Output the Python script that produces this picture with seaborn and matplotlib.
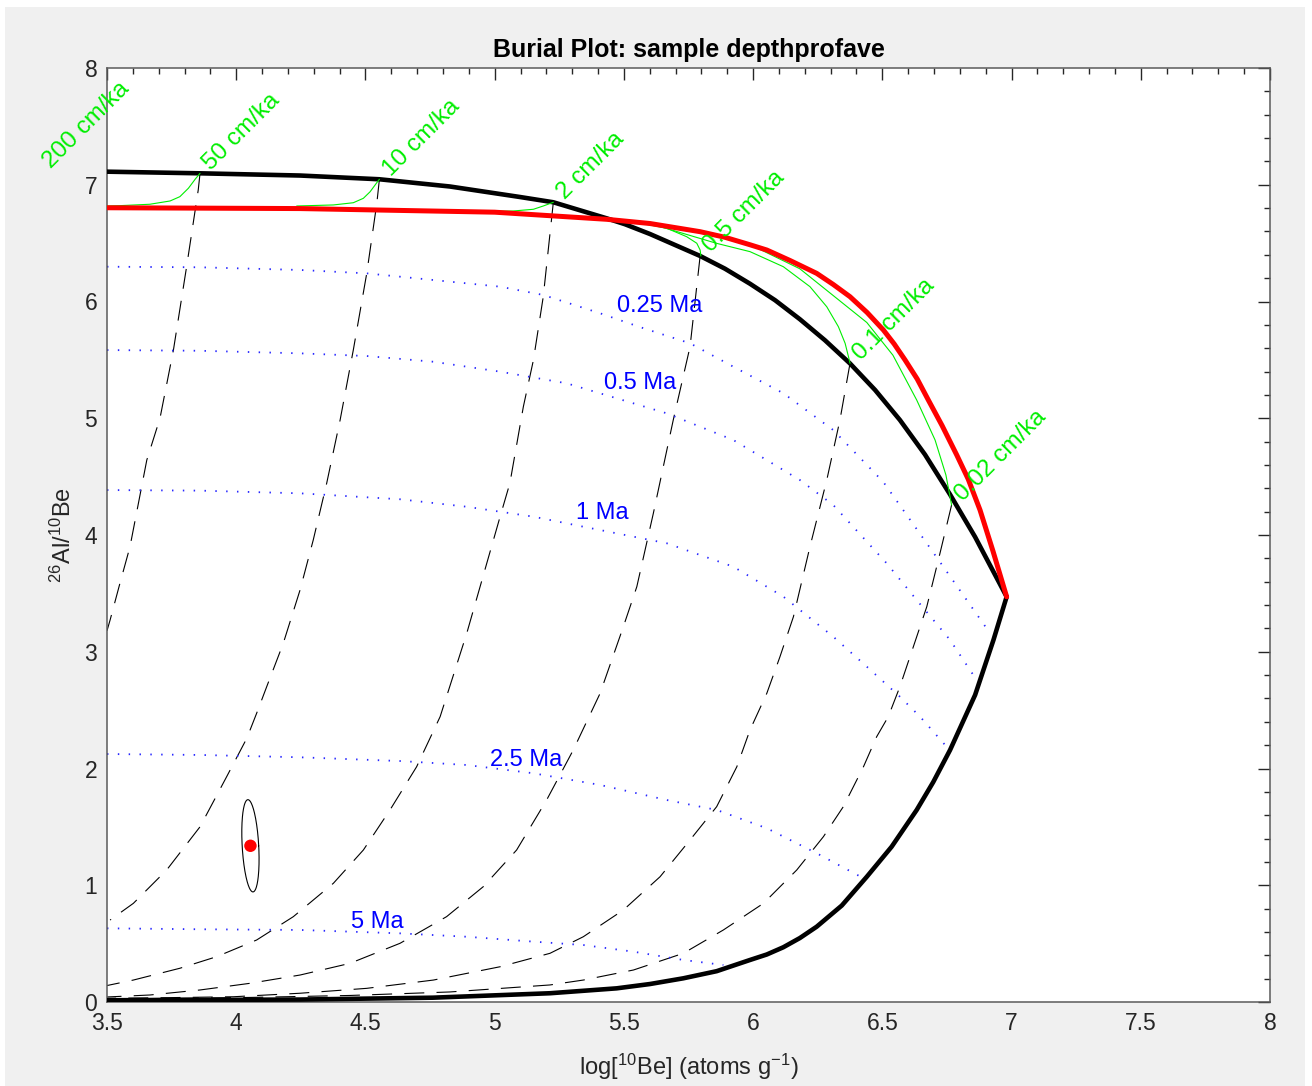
import numpy as np
import matplotlib
matplotlib.use("Agg")
import matplotlib.pyplot as plt
from matplotlib.patches import Rectangle
from matplotlib.ticker import MultipleLocator
import seaborn as sns

# ---------------- data ----------------
# steady-erosion end points (upper black curve)
steady_be = [3.500, 3.860, 4.247, 4.554, 4.827, 5.098, 5.227, 5.434, 5.504, 5.601, 5.698, 5.795,
             5.891, 5.988, 6.085, 6.181, 6.278, 6.375, 6.472, 6.568, 6.665, 6.762, 6.859, 6.981]
steady_ratio = [7.112, 7.098, 7.079, 7.047, 6.985, 6.895, 6.850, 6.712, 6.662, 6.578, 6.484, 6.390,
                6.281, 6.152, 6.011, 5.848, 5.668, 5.469, 5.242, 4.985, 4.689, 4.347, 3.983, 3.471]

# depth-profile averaged curve (red)
profile_be = [3.500, 4.247, 5.000, 5.434, 5.601, 5.795, 5.891, 5.988, 6.053, 6.143, 6.246, 6.310,
              6.375, 6.441, 6.504, 6.546, 6.588, 6.635, 6.678, 6.731, 6.788, 6.832, 6.878, 6.928, 6.981]
profile_ratio = [6.803, 6.796, 6.765, 6.704, 6.668, 6.598, 6.550, 6.486, 6.441, 6.351, 6.241, 6.146,
                 6.041, 5.906, 5.756, 5.636, 5.499, 5.336, 5.156, 4.938, 4.685, 4.480, 4.214, 3.863, 3.471]

# burial of the zero-erosion end point (lower black curve)
floor_be = [3.500, 4.247, 4.761, 5.214, 5.472, 5.601, 5.730, 5.859, 5.988, 6.053, 6.117, 6.181,
            6.246, 6.343, 6.440, 6.536, 6.633, 6.697, 6.762, 6.859, 6.930, 6.981]
floor_ratio = [0.015, 0.021, 0.037, 0.075, 0.117, 0.154, 0.203, 0.264, 0.360, 0.407, 0.469, 0.548,
               0.645, 0.826, 1.073, 1.330, 1.645, 1.884, 2.158, 2.630, 3.101, 3.471]

# burial trajectories from each erosion rate (dashed)
b50_be = [3.860, 3.853, 3.808, 3.757, 3.705, 3.654, 3.589, 3.550, 3.512, 3.500]
b50_ratio = [7.098, 6.955, 6.298, 5.584, 5.000, 4.642, 3.900, 3.586, 3.272, 3.180]
b10_be = [4.554, 4.544, 4.505, 4.453, 4.402, 4.350, 4.298, 4.247, 4.182, 4.118, 4.079, 4.041, 3.963, 3.860, 3.731, 3.602, 3.512]
b10_ratio = [7.047, 6.841, 6.241, 5.584, 4.985, 4.443, 3.957, 3.529, 3.072, 2.701, 2.473, 2.259, 1.930, 1.501, 1.131, 0.845, 0.702]
b2_be = [5.227, 5.188, 5.150, 5.111, 5.059, 5.021, 4.892, 4.789, 4.698, 4.595, 4.492, 4.376, 4.221, 4.079, 3.924, 3.782, 3.602, 3.500]
b2_ratio = [6.850, 6.041, 5.499, 5.099, 4.445, 4.157, 3.158, 2.444, 2.015, 1.645, 1.302, 1.017, 0.731, 0.531, 0.388, 0.289, 0.188, 0.141]
b05_be = [5.795, 5.756, 5.691, 5.614, 5.550, 5.498, 5.408, 5.304, 5.201, 5.085, 4.956, 4.814, 4.634, 4.440, 4.247, 4.053, 3.860, 3.666, 3.500]
b05_ratio = [6.390, 5.613, 4.985, 4.186, 3.557, 3.215, 2.644, 2.158, 1.730, 1.302, 0.988, 0.731, 0.503, 0.331, 0.231, 0.160, 0.103, 0.060, 0.043]
b01_be = [6.375, 6.336, 6.285, 6.220, 6.156, 6.104, 6.053, 5.988, 5.937, 5.859, 5.756, 5.640, 5.498, 5.343, 5.214, 5.021, 4.763, 4.505, 4.247, 3.989, 3.731, 3.500]
b01_ratio = [5.471, 4.985, 4.471, 3.900, 3.300, 2.958, 2.644, 2.330, 2.015, 1.673, 1.388, 1.073, 0.788, 0.559, 0.417, 0.302, 0.188, 0.117, 0.075, 0.045, 0.037, 0.032]
b002_be = [6.768, 6.723, 6.672, 6.620, 6.568, 6.523, 6.478, 6.427, 6.349, 6.272, 6.169, 6.040, 5.885, 5.730, 5.537, 5.343, 5.214, 4.827, 4.440, 4.053, 3.500]
b002_ratio = [4.257, 3.843, 3.386, 3.043, 2.701, 2.444, 2.272, 2.015, 1.673, 1.416, 1.131, 0.845, 0.617, 0.417, 0.274, 0.188, 0.146, 0.086, 0.056, 0.039, 0.026]

# isochrons (dotted blue)
iso025_be = [3.500, 3.860, 4.247, 4.505, 4.763, 5.021, 5.188, 5.408, 5.562, 5.756, 5.923, 6.117, 6.310, 6.504, 6.736, 6.917]
iso025_ratio = [6.298, 6.293, 6.270, 6.241, 6.184, 6.127, 6.056, 5.899, 5.781, 5.642, 5.442, 5.214, 4.899, 4.454, 3.728, 3.158]
iso05_be = [3.500, 3.860, 4.247, 4.505, 4.763, 5.021, 5.279, 5.666, 5.923, 6.181, 6.310, 6.517, 6.633, 6.762, 6.852]
iso05_ratio = [5.584, 5.578, 5.556, 5.533, 5.484, 5.399, 5.299, 5.042, 4.814, 4.471, 4.257, 3.757, 3.443, 3.101, 2.801]
iso1_be = [3.500, 3.860, 4.247, 4.634, 4.892, 5.150, 5.343, 5.666, 5.923, 6.117, 6.310, 6.440, 6.568, 6.646, 6.743]
iso1_ratio = [4.385, 4.380, 4.357, 4.306, 4.242, 4.157, 4.071, 3.929, 3.729, 3.472, 3.129, 2.872, 2.615, 2.444, 2.201]
iso25_be = [3.500, 3.860, 4.247, 4.634, 4.892, 5.150, 5.408, 5.666, 5.859, 6.053, 6.246, 6.427]
iso25_ratio = [2.124, 2.116, 2.096, 2.064, 2.030, 1.959, 1.859, 1.730, 1.645, 1.488, 1.274, 1.060]
iso5_be = [3.500, 3.860, 4.247, 4.634, 4.892, 5.150, 5.343, 5.537, 5.730, 5.885]
iso5_ratio = [0.631, 0.623, 0.617, 0.588, 0.559, 0.517, 0.488, 0.431, 0.360, 0.317]

iso_labels = ["0.25 Ma", "0.5 Ma", "1 Ma", "2.5 Ma", "5 Ma"]
iso_label_be = [5.640, 5.562, 5.415, 5.121, 4.545]
iso_label_ratio = [5.960, 5.302, 4.188, 2.073, 0.685]

# approach of each erosion rate to steady state (thin green)
g50_be = [3.500, 3.550, 3.666, 3.744, 3.782, 3.815, 3.841, 3.860]
g50_ratio = [6.818, 6.821, 6.833, 6.861, 6.898, 6.970, 7.047, 7.098]
g10_be = [4.234, 4.376, 4.453, 4.492, 4.518, 4.544, 4.554]
g10_ratio = [6.818, 6.827, 6.846, 6.884, 6.940, 7.018, 7.047]
g2_be = [4.905, 5.071, 5.150, 5.188, 5.214, 5.227]
g2_ratio = [6.771, 6.775, 6.790, 6.818, 6.839, 6.850]
g05_be = [5.450, 5.537, 5.666, 5.743, 5.782, 5.795, 5.798]
g05_ratio = [6.700, 6.683, 6.627, 6.555, 6.499, 6.441, 6.390]
g01_be = [5.620, 5.859, 5.988, 6.117, 6.220, 6.285, 6.330, 6.356, 6.369, 6.375]
g01_ratio = [6.655, 6.498, 6.427, 6.298, 6.127, 5.955, 5.784, 5.642, 5.527, 5.471]
g002_be = [6.000, 6.181, 6.440, 6.541, 6.633, 6.704, 6.746, 6.762, 6.768]
g002_ratio = [6.475, 6.280, 5.820, 5.540, 5.156, 4.814, 4.514, 4.328, 4.257]

erosion_labels = ["200 cm/ka", "50 cm/ka", "10 cm/ka", "2 cm/ka", "0.5 cm/ka", "0.1 cm/ka", "0.02 cm/ka"]
erosion_be = [3.240, 3.860, 4.554, 5.227, 5.795, 6.375, 6.768]
erosion_ratio = [7.115, 7.098, 7.047, 6.850, 6.390, 5.471, 4.257]

# sample depthprofave
sample_be = 4.055
sample_ratio = 1.338
sample_be_err = 0.032
sample_ratio_err = 0.395
sample_skew = 0.0097

x_ticks = [3.5, 4, 4.5, 5, 5.5, 6, 6.5, 7, 7.5, 8]
x_tick_labels = ["3.5", "4", "4.5", "5", "5.5", "6", "6.5", "7", "7.5", "8"]
y_ticks = [0, 1, 2, 3, 4, 5, 6, 7, 8]
y_tick_labels = ["0", "1", "2", "3", "4", "5", "6", "7", "8"]

# ---------------- style ----------------
sns.set_theme(style="white")
plt.rcParams["font.family"] = ["Liberation Sans", "DejaVu Sans"]
plt.rcParams["mathtext.fontset"] = "custom"
plt.rcParams["mathtext.rm"] = "Liberation Sans"
plt.rcParams["mathtext.it"] = "Liberation Sans:italic"
plt.rcParams["mathtext.bf"] = "Liberation Sans:bold"

W, H = 1312, 1086
fig = plt.figure(figsize=(W / 100, H / 100), dpi=100, facecolor="white")
fig.patches.append(Rectangle((5 / W, 0), 1300 / W, 1079 / H, transform=fig.transFigure,
                             facecolor="#f0f0f0", edgecolor="none", zorder=-10))
ax = fig.add_axes([107 / W, 84 / H, 1163 / W, 934 / H])
ax.set_facecolor("white")


def line(x, y, **kw):
    sns.lineplot(x=x, y=y, ax=ax, sort=False, estimator=None, legend=False, **kw)


dash = dict(color="black", linewidth=0.8, linestyle=(0, (18, 11)), zorder=2)
for bx, by in [(b50_be, b50_ratio), (b10_be, b10_ratio), (b2_be, b2_ratio),
               (b05_be, b05_ratio), (b01_be, b01_ratio), (b002_be, b002_ratio)]:
    line(bx, by, **dash)

dots = dict(color="#2626ff", linewidth=1.3, linestyle=(0, (0.8, 5.2)), zorder=2)
for ix, iy in [(iso025_be, iso025_ratio), (iso05_be, iso05_ratio), (iso1_be, iso1_ratio),
               (iso25_be, iso25_ratio), (iso5_be, iso5_ratio)]:
    line(ix, iy, **dots)

line(steady_be, steady_ratio, color="black", linewidth=3.3, zorder=4)
line(floor_be, floor_ratio, color="black", linewidth=3.3, zorder=4)

green = dict(color="#00ee00", linewidth=0.8, zorder=5)
for gx, gy in [(g50_be, g50_ratio), (g10_be, g10_ratio), (g2_be, g2_ratio),
               (g05_be, g05_ratio), (g01_be, g01_ratio), (g002_be, g002_ratio)]:
    line(gx, gy, **green)

line(profile_be, profile_ratio, color="#ff0000", linewidth=3.6, zorder=6)

for lab, xb, yr in zip(iso_labels, iso_label_be, iso_label_ratio):
    ax.text(xb, yr, lab, color="#0000ff", fontsize=17, ha="center", va="center", zorder=7)

for lab, xb, yr in zip(erosion_labels, erosion_be, erosion_ratio):
    ax.annotate(lab, (xb, yr), xytext=(5, 5), textcoords="offset points",
                color="#00ee00", fontsize=17.5, ha="left", va="center",
                rotation=45, rotation_mode="anchor", zorder=7, annotation_clip=False)

# sample error ellipse and measured point
t = np.linspace(0, 2 * np.pi, 200)
ex = sample_be + sample_be_err * np.cos(t) - sample_skew * np.sin(t)
ey = sample_ratio + sample_ratio_err * np.sin(t)
line(ex, ey, color="black", linewidth=0.8, zorder=6)
sns.scatterplot(x=[sample_be], y=[sample_ratio], ax=ax, color="#ff0000", s=80,
                edgecolor="none", zorder=8, legend=False)

# ---------------- axes ----------------
ax.set_xlim(3.5, 8)
ax.set_ylim(0, 8)
ax.set_xticks(x_ticks)
ax.set_xticklabels(x_tick_labels)
ax.set_yticks(y_ticks)
ax.set_yticklabels(y_tick_labels)
ax.xaxis.set_minor_locator(MultipleLocator(0.1))
ax.yaxis.set_minor_locator(MultipleLocator(0.2))
ax.tick_params(which="both", direction="in", top=True, right=True, colors="#262626",
               labelsize=16.5, width=1.0)
ax.tick_params(which="major", length=8.5, pad=7)
ax.tick_params(which="minor", length=4.5)
for s in ax.spines.values():
    s.set_color("#5a5a5a")
    s.set_linewidth(1.1)
    s.set_visible(True)

ax.set_title("Burial Plot: sample depthprofave", fontsize=18, fontweight="bold", pad=8, color="black")
ax.set_xlabel("log[$^{10}$Be] (atoms g$^{-1}$)", fontsize=17, color="#262626", labelpad=12.5)
ax.set_ylabel("$^{26}$Al/$^{10}$Be", fontsize=17, color="#262626", labelpad=6.5)

fig.savefig("out.png", dpi=100, facecolor=fig.get_facecolor())
